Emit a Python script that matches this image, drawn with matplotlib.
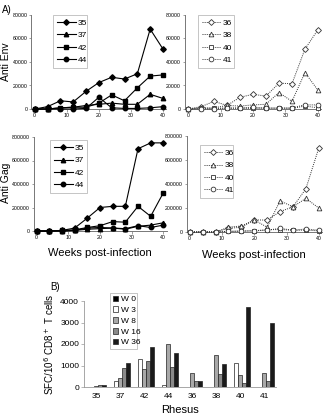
import numpy as np
import matplotlib
matplotlib.use("Agg")
import matplotlib.pyplot as plt

plt.rcParams['font.family'] = ['Liberation Sans', 'DejaVu Sans']

weeks = [0, 4, 8, 12, 16, 20, 24, 28, 32, 36, 40]

# Anti Env, vaccinated group (left) and control group (right)
env_35 = [0, 2000, 7000, 6000, 15000, 22500, 27000, 25500, 30000, 68000, 51000]
env_37 = [0, 0, 1000, 1500, 3000, 4000, 5000, 4000, 4000, 12500, 9000]
env_42 = [0, 0, 1000, 1500, 1500, 5000, 12000, 7000, 18000, 28000, 29000]
env_44 = [0, 0, 0, 0, 500, 10000, 1000, 500, 500, 1000, 2000]
env_36 = [0, 2000, 6500, 3000, 10000, 12500, 11000, 22000, 21500, 51000, 67500]
env_38 = [0, 1000, 1000, 3000, 2500, 3500, 4000, 14000, 6500, 31000, 16000]
env_40 = [0, 500, 500, 1000, 500, 500, 500, 500, 500, 2500, 1000]
env_41 = [0, 0, 0, 500, 1000, 1500, 1000, 1000, 1000, 3500, 3500]

# Anti Gag
gag_35 = [0, 0, 5000, 25000, 110000, 200000, 210000, 210000, 700000, 750000, 750000]
gag_37 = [0, 0, 0, 5000, 15000, 20000, 25000, 15000, 40000, 50000, 70000]
gag_42 = [0, 0, 5000, 10000, 30000, 45000, 80000, 75000, 210000, 125000, 325000]
gag_44 = [0, 0, 0, 5000, 25000, 30000, 25000, 20000, 45000, 30000, 50000]
gag_36 = [0, 0, 0, 30000, 40000, 100000, 100000, 170000, 210000, 360000, 700000]
gag_38 = [0, 0, 0, 40000, 50000, 100000, 40000, 260000, 210000, 280000, 200000]
gag_40 = [0, 0, 0, 5000, 5000, 10000, 20000, 20000, 15000, 15000, 10000]
gag_41 = [0, 0, 0, 5000, 10000, 10000, 15000, 30000, 15000, 25000, 15000]

# Panel B: SFC per 10^6 CD8+ T cells
rhesus = ['35', '37', '42', '44', '36', '38', '40', '41']
bar_labels = ['W 0', 'W 3', 'W 8', 'W 16', 'W 36']
w0 = [0, 0, 0, 0, 0, 0, 0, 0]
w3 = [0, 300, 1300, 100, 0, 0, 1100, 0]
w8 = [30, 420, 850, 1980, 640, 1480, 540, 660]
w16 = [100, 900, 1200, 950, 300, 620, 170, 290]
w36 = [80, 1100, 1880, 1560, 300, 1080, 3720, 2960]

W, H = 325, 418
fig = plt.figure(figsize=(W / 100, H / 100), dpi=100)

def px_axes(left, top, right, bottom):
    return fig.add_axes([left / W, 1 - bottom / H, (right - left) / W, (bottom - top) / H])

def style_axes(ax, ymax, yticks):
    ax.set_xlim(-1, 41)
    ax.set_ylim(0, ymax)
    ax.set_xticks([0, 10, 20, 30, 40])
    ax.set_yticks(yticks)
    for s in ['top', 'right']:
        ax.spines[s].set_visible(False)
    for s in ['left', 'bottom']:
        ax.spines[s].set_color('#777777')
        ax.spines[s].set_linewidth(0.7)
    ax.tick_params(labelsize=3.8, length=1.8, width=0.5, color='#777777', pad=1.2)

solid_keys = [('35', 'D'), ('37', '^'), ('42', 's'), ('44', 'o')]
open_keys = [('36', 'D'), ('38', '^'), ('40', 's'), ('41', 'o')]

def draw_solid(ax, series):
    for (lab, mk), ys in zip(solid_keys, series):
        ax.plot(weeks, ys, color='black', lw=0.8, marker=mk, ms=3.2 if mk != 'D' else 2.8,
                mfc='black', mec='black', label=lab, clip_on=False, zorder=3)

def draw_open(ax, series):
    for (lab, mk), ys in zip(open_keys, series):
        ax.plot(weeks, ys, color='#333333', lw=0.7, ls=(0, (1, 1.2)), marker=mk,
                ms=3.4 if mk != 'D' else 3.0, mfc='white', mec='#333333', mew=0.6,
                label=lab, clip_on=False, zorder=3)

def add_legend(ax, left, top, right, bottom):
    bb = ((left) / W, 1 - bottom / H, (right - left) / W, (bottom - top) / H)
    leg = ax.legend(loc='upper left', bbox_to_anchor=bb, bbox_transform=fig.transFigure,
                    mode='expand', fontsize=6, frameon=True, fancybox=False,
                    handlelength=2.2, handletextpad=0.3, labelspacing=0.55,
                    borderpad=0.5, borderaxespad=0)
    leg.get_frame().set_edgecolor('#aaaaaa')
    leg.get_frame().set_linewidth(0.6)

env_ticks = [0, 20000, 40000, 60000, 80000]
gag_ticks = [0, 200000, 400000, 600000, 800000]

ax1 = px_axes(31.5, 15, 166.2, 109)
draw_solid(ax1, [env_35, env_37, env_42, env_44])
style_axes(ax1, 80000, env_ticks)
add_legend(ax1, 53, 15, 87, 72)

ax2 = px_axes(184.8, 15, 321.2, 109)
draw_open(ax2, [env_36, env_38, env_40, env_41])
style_axes(ax2, 80000, env_ticks)
add_legend(ax2, 198, 15, 234, 66)

ax3 = px_axes(33.5, 137, 166.5, 231)
draw_solid(ax3, [gag_35, gag_37, gag_42, gag_44])
style_axes(ax3, 800000, gag_ticks)
add_legend(ax3, 50, 140, 87, 186)
ax3.set_xlabel('Weeks post-infection', fontsize=8, labelpad=6)

ax4 = px_axes(186.5, 136, 322, 232)
draw_open(ax4, [gag_36, gag_38, gag_40, gag_41])
style_axes(ax4, 800000, gag_ticks)
add_legend(ax4, 200, 145, 233, 184)
ax4.set_xlabel('Weeks post-infection', fontsize=8, labelpad=6)

fig.text(2 / W, 1 - 10 / H, 'A)', fontsize=7, va='center')
fig.text(6 / W, 1 - 62 / H, 'Anti Env', fontsize=7.5, rotation=90, ha='center', va='center')
fig.text(6 / W, 1 - 183 / H, 'Anti Gag', fontsize=7.5, rotation=90, ha='center', va='center')
fig.text(50 / W, 1 - 287 / H, 'B)', fontsize=7, va='center')

# Panel B bars
ax5 = px_axes(84, 301, 276, 387)
x = np.arange(len(rhesus))
bw = 0.17
colors = ['#000000', '#ffffff', '#a8a8a8', '#8a8a8a', '#1a1a1a']
for i, (vals, lab, c) in enumerate(zip([w0, w3, w8, w16, w36], bar_labels, colors)):
    ax5.bar(x + (i - 2) * bw, vals, bw, color=c, edgecolor='#222222', linewidth=0.5, label=lab)
ax5.set_xlim(-0.5, len(rhesus) - 0.5)
ax5.set_ylim(0, 4000)
ax5.set_yticks([0, 1000, 2000, 3000, 4000])
ax5.set_xticks(x)
ax5.set_xticklabels(rhesus)
for s in ['top', 'right']:
    ax5.spines[s].set_visible(False)
for s in ['left', 'bottom']:
    ax5.spines[s].set_color('#999999')
    ax5.spines[s].set_linewidth(0.6)
ax5.tick_params(axis='y', labelsize=6, length=2, width=0.5, color='#999999', pad=1.5)
ax5.tick_params(axis='x', labelsize=6, length=0, pad=4)
ax5.set_ylabel('SFC/10$^6$ CD8$^+$ T cells', fontsize=7, labelpad=3)
ax5.set_xlabel('Rhesus', fontsize=8, labelpad=4)
bb = (110 / W, 1 - 349 / H, 27 / W, 56 / H)
leg = ax5.legend(loc='upper left', bbox_to_anchor=bb, bbox_transform=fig.transFigure,
                 mode='expand', fontsize=6, frameon=True, fancybox=False,
                 handlelength=0.7, handleheight=0.7, handletextpad=0.3, labelspacing=0.35,
                 borderpad=0.3, borderaxespad=0)
leg.get_frame().set_edgecolor('#aaaaaa')
leg.get_frame().set_linewidth(0.6)

fig.savefig('out.png', dpi=100)
